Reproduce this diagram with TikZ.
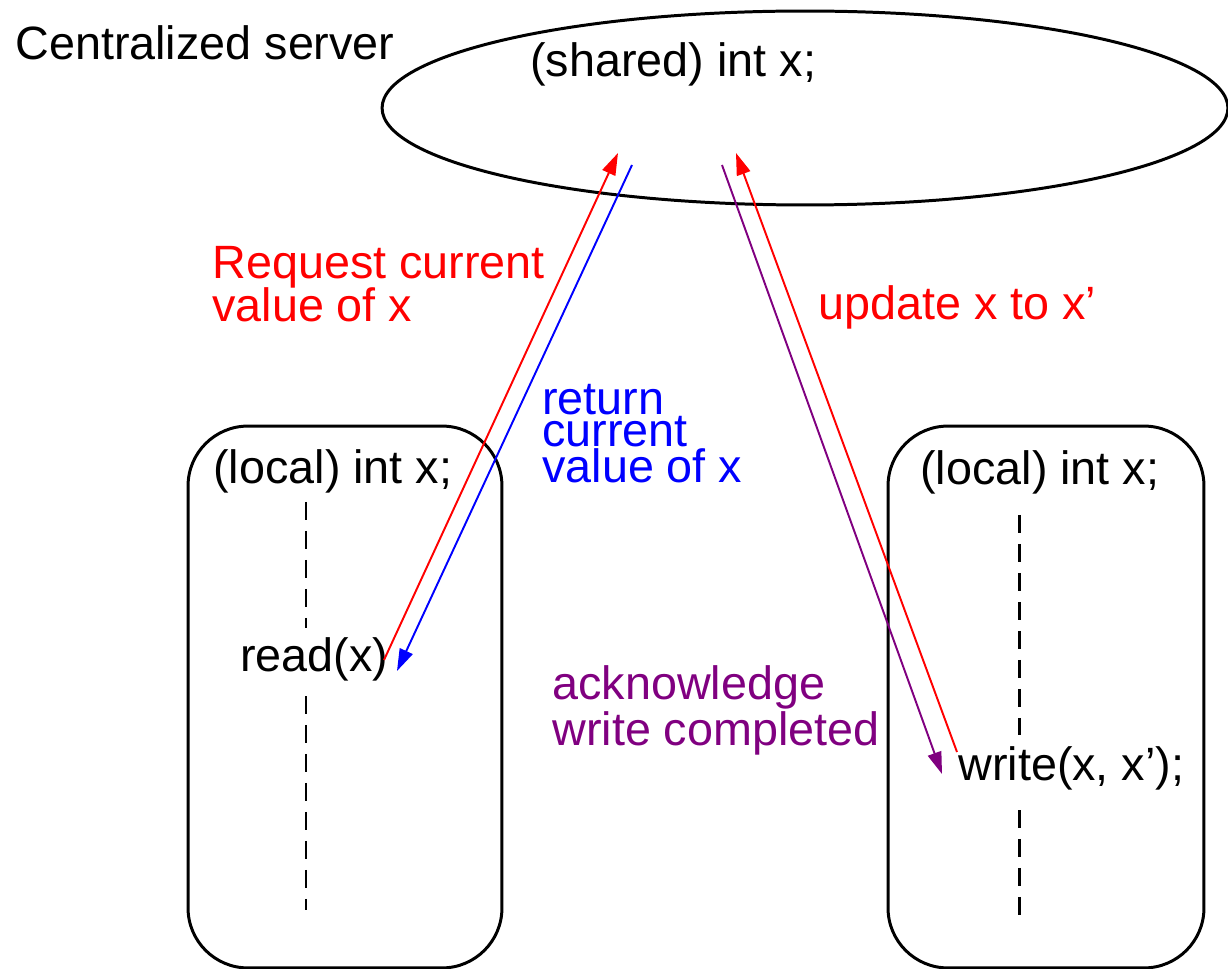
\documentclass[tikz,border=0pt]{standalone}
\usepackage{fontspec}
\setmainfont{Liberation Sans}
\usetikzlibrary{shapes.geometric,arrows.meta}
\definecolor{ackpurple}{RGB}{128,0,128}
\begin{document}
\begin{tikzpicture}[x=0.02cm,y=-0.02cm,
  lbl/.style={inner sep=0pt,anchor=base west,align=left},
  txt/.style={font=\fontsize{26.6pt}{30pt}\selectfont},
  arr/.style={line width=1.1pt,-{Triangle[length=0.44cm,width=0.28cm]}},
  outline/.style={draw=black,line width=1.7pt},
  timeline/.style={draw=black,line width=1.7pt,dash pattern=on 0.36cm off 0.22cm}]
\useasboundingbox (0,0) rectangle (1228,969);
% shapes
\node[outline,ellipse,minimum width=16.92cm,minimum height=3.88cm,inner sep=0pt] (server) at (805,108) {};
\node[outline,rectangle,rounded corners=1.2cm,minimum width=6.28cm,minimum height=10.84cm,inner sep=0pt] (lbox) at (345,697) {};
\node[outline,rectangle,rounded corners=1.2cm,minimum width=6.32cm,minimum height=10.84cm,inner sep=0pt] (rbox) at (1046,697) {};
% timelines
\draw[timeline] (306,502) -- (306,628);
\draw[timeline] (306,696) -- (306,910);
\draw[timeline] (1019,515) -- (1019,735);
\draw[timeline] (1019,810) -- (1019,922);
% texts
\node[lbl,txt] (title) at (15,60) {Centralized server};
\node[lbl,txt] (shared) at (530,77) {(shared) int x;};
\node[lbl,txt] (llocal) at (213,484) {(local) int x;};
\node[lbl,txt] (rlocal) at (920,485) {(local) int x;};
\node[lbl,txt] (read) at (240,671) {read(x)};
\node[lbl,txt] (write) at (958,780) {write(x, x’);};
\node[lbl,font=\fontsize{26.6pt}{25pt}\selectfont,text=red] (reqlbl) at (212,322) {Request current\\value of x};
\node[lbl,txt,text=red] (updlbl) at (818,320) {update x to x’};
\node[lbl,font=\fontsize{26.6pt}{18.5pt}\selectfont,text=blue] (retlbl) at (542,483) {return\\current\\value of x};
\node[lbl,font=\fontsize{26.6pt}{21pt}\selectfont,text=ackpurple] (acklbl) at (552,745) {acknowledge\\write completed};
% connector ends
\coordinate (reqS) at (384,660);
\coordinate (reqE) at (618,153);
\coordinate (retS) at (632,165);
\coordinate (retE) at (397,671);
\coordinate (ackS) at (722,165);
\coordinate (ackE) at (942,774);
\coordinate (updS) at (957,752);
\coordinate (updE) at (736,153);
% connectors
\draw[arr,red] (reqS) -- (reqE);
\draw[arr,blue] (retS) -- (retE);
\draw[arr,ackpurple] (ackS) -- (ackE);
\draw[arr,red] (updS) -- (updE);
\end{tikzpicture}
\end{document}
